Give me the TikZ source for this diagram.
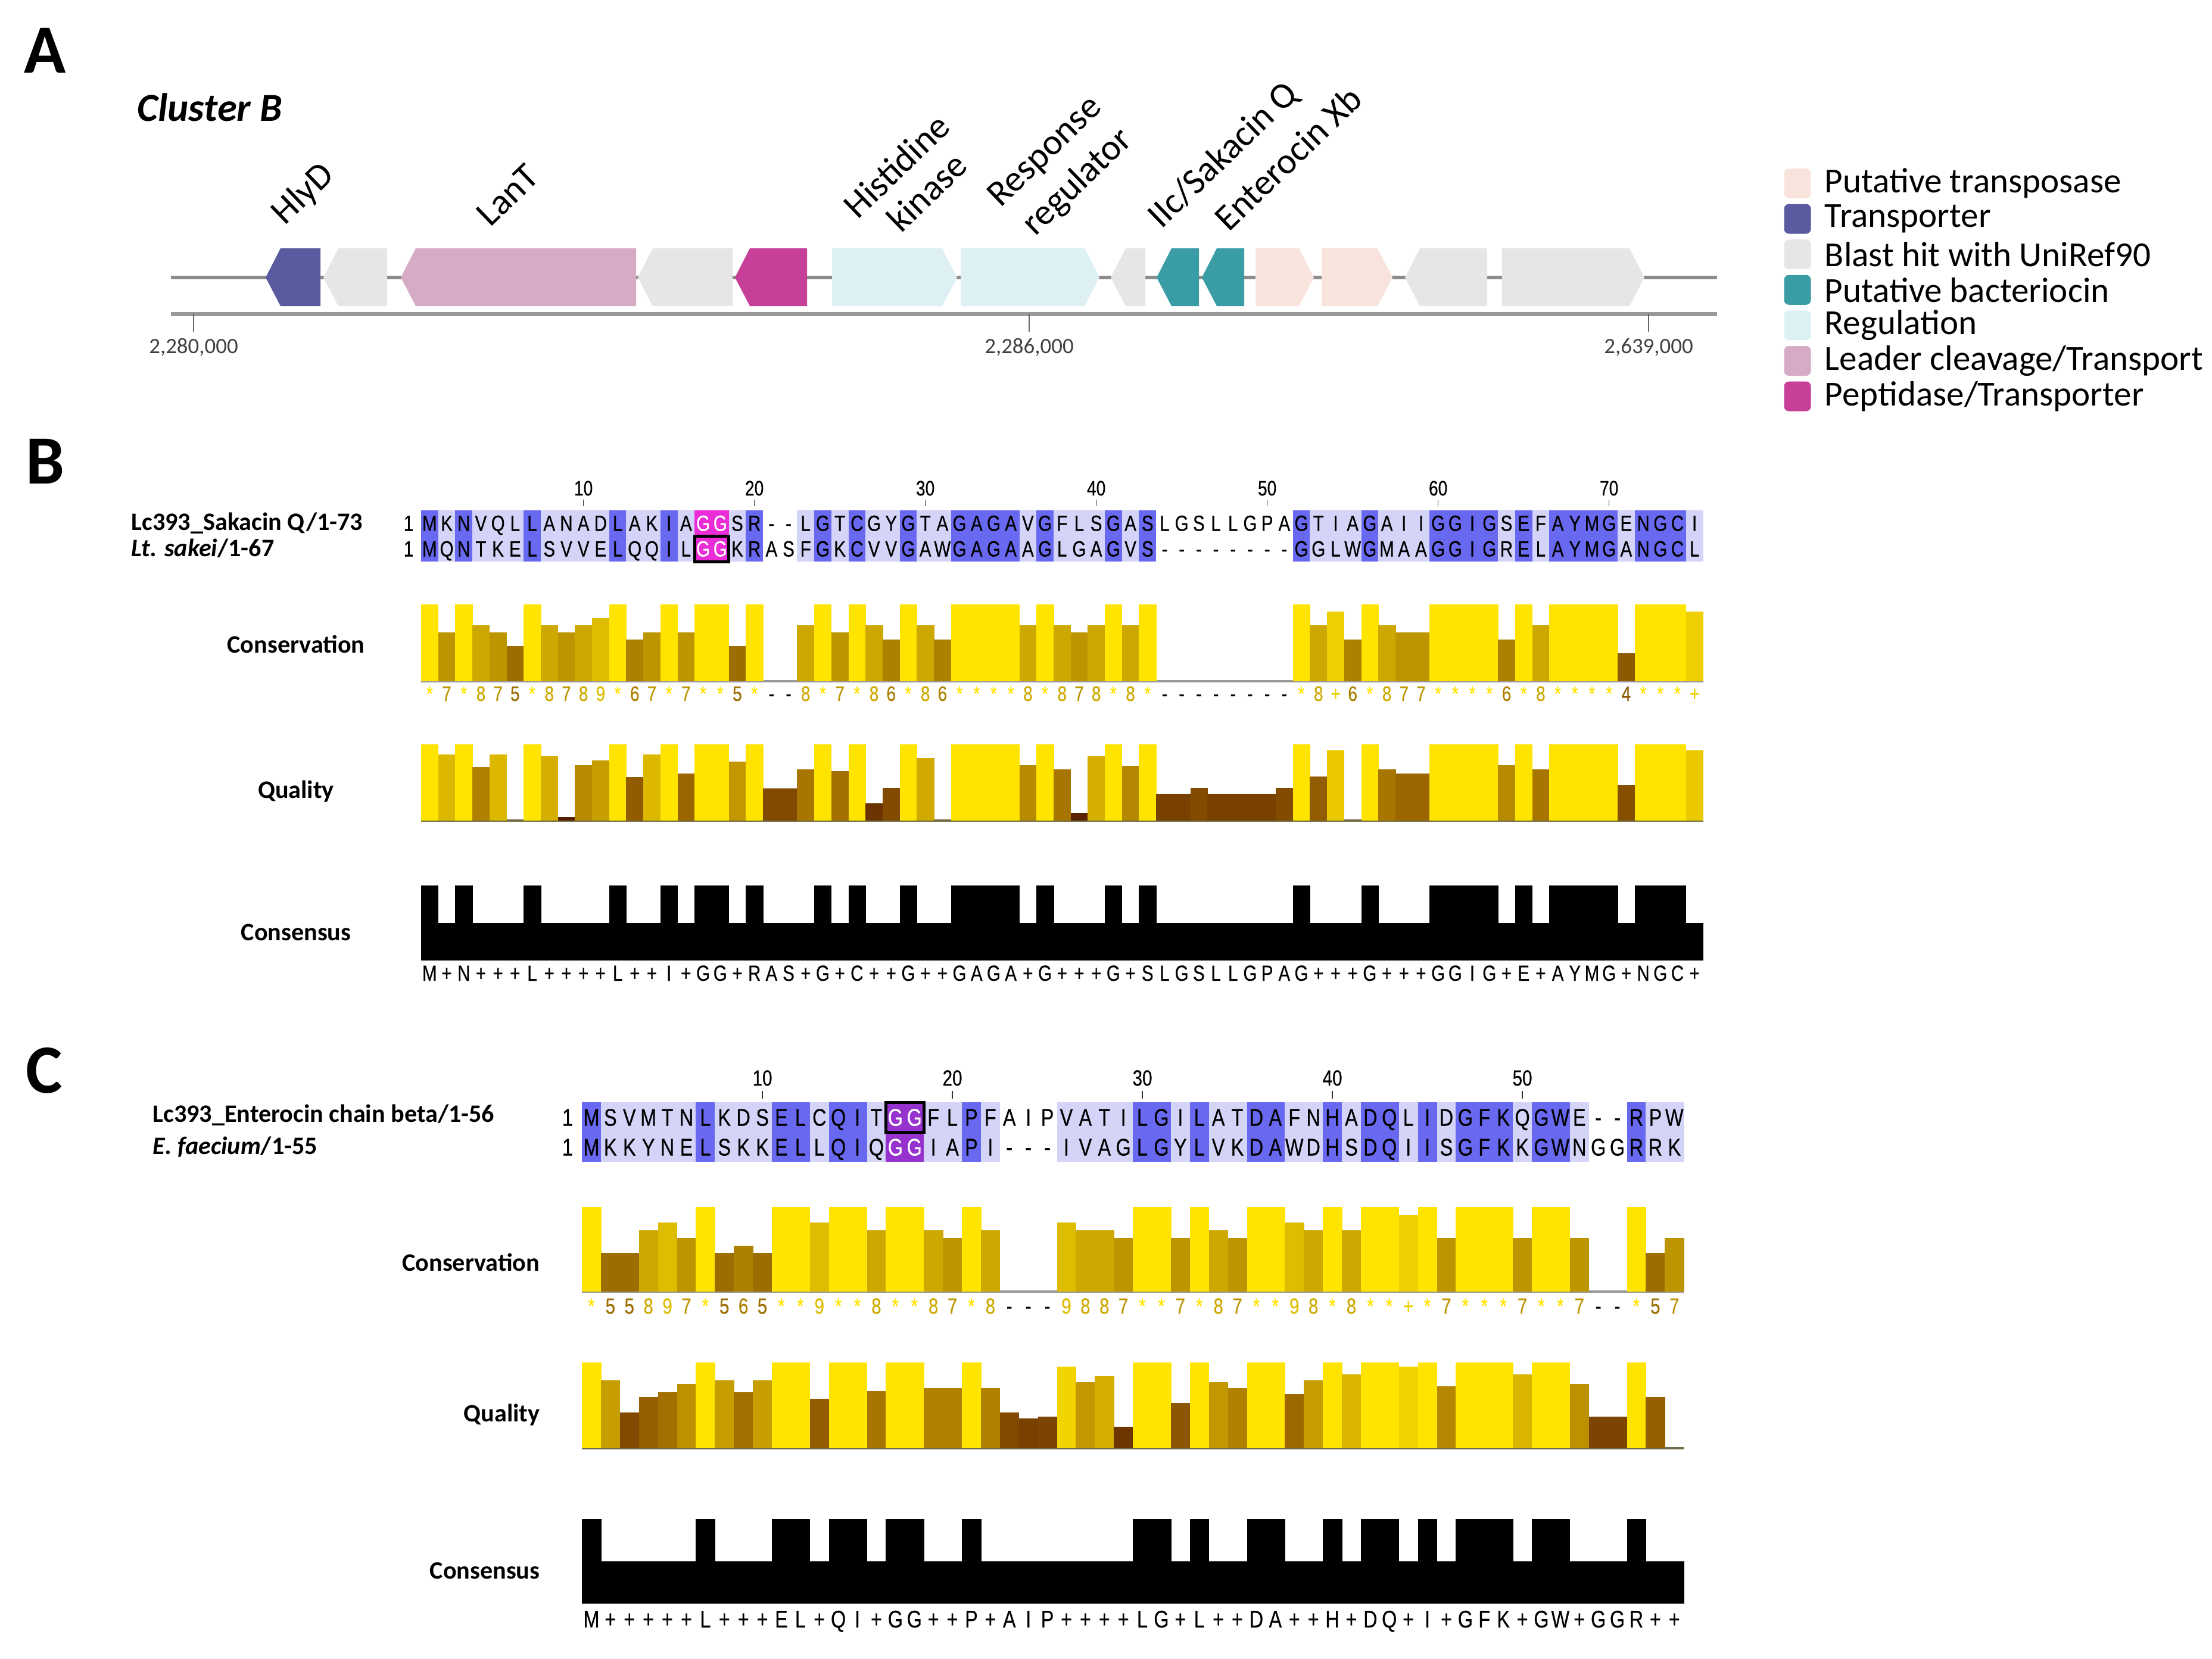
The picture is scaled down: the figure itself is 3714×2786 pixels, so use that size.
\documentclass[tikz,border=0pt]{standalone}
\usepackage{fontspec}
\setmainfont{Carlito}
\newfontfamily\seqfont[FakeStretch=0.8,FakeBold=0.4]{Liberation Sans}
\usetikzlibrary{positioning,calc}

\definecolor{transposase}{RGB}{249,227,221}
\definecolor{transporter}{RGB}{90,90,160}
\definecolor{blasthit}{RGB}{230,230,230}
\definecolor{bacteriocin}{RGB}{58,157,165}
\definecolor{regulation}{RGB}{221,240,244}
\definecolor{leader}{RGB}{214,171,198}
\definecolor{peptidase}{RGB}{198,63,152}
\definecolor{pidhi}{RGB}{104,104,240}
\definecolor{pidlo}{RGB}{212,212,248}
\definecolor{hlmag}{RGB}{235,45,215}
\definecolor{hlpur}{RGB}{150,50,205}

\tikzset{panel/.style = {font=\fontsize{33}{33}\selectfont\bfseries, inner sep=0pt, anchor=base west},
    cluster/.style = {font=\fontsize{19}{19}\selectfont\bfseries\itshape, inner sep=0pt, anchor=base west},
    genelbl/.style = {font=\fontsize{17.5}{17.5}\selectfont, inner sep=0pt, anchor=base west, rotate=44},
    poslbl/.style = {font=\fontsize{10.5}{10.5}\selectfont, text=black!75, inner sep=0pt},
    legbox/.style = {rounded corners=0.8mm, minimum width=4.5mm, minimum height=5mm, inner sep=0pt},
    legtxt/.style = {font=\fontsize{16.8}{16.8}\selectfont, inner sep=0pt, anchor=west},
    seqname/.style = {font=\fontsize{12}{12}\selectfont\bfseries, inner sep=0pt, anchor=west},
    annot/.style = {font=\fontsize{12}{12}\selectfont\bfseries, inner sep=0pt},
    seqc/.style = {font=\seqfont\seqfs, inner sep=0pt, anchor=base},
    cnum/.style = {font=\seqfont\numfs, inner sep=0pt, anchor=base},
    tickm/.style = {black!80, line width=0.15mm}
}

% gene arrows: from x1 to x2, tip on the left or on the right
\newcommand\GeneL[3]{\fill[#3] (#1,466) -- (#1+25,417) -- (#2,417) -- (#2,514) -- (#1+25,514) -- cycle;}
\newcommand\GeneR[3]{\fill[#3] (#1,417) -- (#2-25,417) -- (#2,466) -- (#2-25,514) -- (#1,514) -- cycle;}

\def\gp{-}
% two aligned rows plus consensus
\newcommand\DrawAln[1]{%
\foreach \resA/\resB [count=\i] in {#1} {
    \pgfmathsetmacro\xl{\alX+(\i-1)*\alW}
    \pgfmathsetmacro\xr{\alX+\i*\alW+0.6}
    \pgfmathsetmacro\xc{\alX+(\i-0.5)*\alW}
    \def\clr{pidlo}\def\hgt{0.5}\def\cns{+}\def\txc{black}
    \ifx\resA\resB \def\clr{pidhi}\def\hgt{1}\let\cns\resA\fi
    \ifx\resA\gp \def\clr{white}\let\cns\resB\fi
    \ifx\resB\gp \def\clr{white}\let\cns\resA\fi
    \ifnum\i=\hlA \let\clr\hlC\def\txc{white}\fi
    \ifnum\i=\hlB \let\clr\hlC\def\txc{white}\fi
    \fill[\clr] (\xl,\alY) rectangle (\xr,\alY+2*\alH);
    \node[seqc,text=\txc] (\pfx a\i) at (\xc,\alY+0.5*\alH+\capH) {\resA};
    \node[seqc,text=\txc] (\pfx b\i) at (\xc,\alY+1.5*\alH+\capH) {\resB};
    \fill[black] (\xl,\ccB) rectangle (\xr,\ccB-\hgt*\ccH);
    \node[seqc] (\pfx k\i) at (\xc,\ccT) {\cns};
}}
% conservation bars, 11 = *, 10 = +, -1 = gap
\newcommand\DrawCons[1]{%
\draw[black!40, line width=0.4mm] (\alX,\cvB) -- (\alX+\alN*\alW,\cvB);
\foreach \v [count=\i] in {#1} {
    \pgfmathsetmacro\xl{\alX+(\i-1)*\alW}
    \pgfmathsetmacro\xc{\alX+(\i-0.5)*\alW}
    \ifnum\v<0
        \node[cnum] (\pfx c\i) at (\xc,\cvN) {-};
    \else
        \pgfmathsetmacro\tq{max(0,min(1,(\v-4)/7))}
        \pgfmathtruncatemacro\colR{140+115*\tq}
        \pgfmathtruncatemacro\colG{90+138*\tq}
        \edef\tmp{\noexpand\definecolor{barc}{RGB}{\colR,\colG,0}}\tmp
        \fill[barc] (\xl,\cvB) rectangle (\xl+\alW+0.6,\cvB-\v/11*\cvH);
        \ifnum\v=11 \def\clab{*}\else\ifnum\v=10 \def\clab{+}\else\let\clab\v\fi\fi
        \node[cnum,text=barc] (\pfx c\i) at (\xc,\cvN) {\clab};
    \fi
}}
% quality bars
\newcommand\DrawQual[1]{%
\draw[black!40!yellow!60!black, line width=0.4mm] (\alX,\qlB) -- (\alX+\alN*\alW,\qlB);
\foreach \q [count=\i] in {#1} {
    \pgfmathsetmacro\xl{\alX+(\i-1)*\alW}
    \ifdim\q pt>0pt
        \pgfmathsetmacro\tq{max(0,min(1,(\q-0.6)/0.4))}
        \pgfmathsetmacro\sq{max(0,min(1,\q/0.6))}
        \pgfmathtruncatemacro\colR{\q<0.6 ? 80+70*\sq : 150+105*\tq}
        \pgfmathtruncatemacro\colG{\q<0.6 ? 25+70*\sq : 95+133*\tq}
        \edef\tmp{\noexpand\definecolor{barc}{RGB}{\colR,\colG,0}}\tmp
        \fill[barc] (\xl,\qlB) rectangle (\xl+\alW+0.6,\qlB-\q*\qlH);
    \fi
}}

\begin{document}
\begin{tikzpicture}[x=0.1mm,y=-0.1mm]
\useasboundingbox (0,0) rectangle (3714,2786);

%%% A: gene cluster
\node[panel] (pA) at (40,123) {A};
\node[cluster] (clB) at (230,204) {Cluster B};
\draw[black!45, line width=0.55mm] (287,466) -- (2883,466);
\GeneL{446}{538}{transporter}
\GeneL{543}{650}{blasthit}
\GeneL{673}{1068}{leader}
\GeneL{1071}{1230}{blasthit}
\GeneL{1234}{1355}{peptidase}
\GeneR{1397}{1607}{regulation}
\GeneR{1613}{1846}{regulation}
\GeneL{1865}{1923}{blasthit}
\GeneL{1942}{2013}{bacteriocin}
\GeneL{2018}{2089}{bacteriocin}
\GeneR{2108}{2206}{transposase}
\GeneR{2219}{2338}{transposase}
\GeneL{2359}{2497}{blasthit}
\GeneR{2522}{2761}{blasthit}
\node[genelbl] (gHly) at (478,380) {HlyD};
\node[genelbl] (gLan) at (823,383) {LanT};
\node[genelbl] (gHis1) at (1440,370) {Histidine};
\node[genelbl] (gHis2) at (1513,393) {kinase};
\node[genelbl] (gRes1) at (1680,350) {Response};
\node[genelbl] (gRes2) at (1738,398) {regulator};
\node[genelbl] (gSak) at (1950,386) {IIc/Sakacin Q};
\node[genelbl] (gEnt) at (2063,391) {Enterocin Xb};
\draw[black!40, line width=0.7mm] (287,527) -- (2883,527);
\foreach \x/\t [count=\i] in {325/{2,280,000},1728/{2,286,000},2768/{2,639,000}} {
    \draw[black!60, line width=0.2mm] (\x,527) -- (\x,557);
    \node[poslbl] (pos\i) at (\x,583) {\t};
}
\foreach \c/\t [count=\i] in {transposase/{Putative transposase},transporter/{Transporter},
        blasthit/{Blast hit with UniRef90},bacteriocin/{Putative bacteriocin},regulation/{Regulation},
        leader/{Leader cleavage/Transport},peptidase/{Peptidase/Transporter}} {
    \node[legbox,fill=\c] (lg\i) at (3018,{308+(\i-1)*59.6}) {};
    \node[legtxt,right=2.2mm of lg\i] (lt\i) {\t};
}

%%% B: sakacin Q
\node[panel] (pB) at (43,812) {B};
\def\pfx{b}\def\alX{707}\def\alW{28.7}\def\alN{75}\def\alY{857}\def\alH{43}\def\capH{13}
\def\cvB{1144}\def\cvH{129}\def\cvN{1177}\def\qlB{1378}\def\qlH{128}\def\ccB{1613}\def\ccH{126}\def\ccT{1647}
\def\hlA{17}\def\hlB{18}\def\hlC{hlmag}
\def\seqfs{\fontsize{10.5}{10.5}\selectfont}\def\numfs{\fontsize{10}{10}\selectfont}
\node[seqname] (nB1) at (220,879) {Lc393\_Sakacin Q/1-73};
\node[seqname] (nB2) at (220,921) {\textit{Lt. sakei}/1-67};
\node[annot] (lBc) at (497,1082) {Conservation};
\node[annot] (lBq) at (497,1329) {Quality};
\node[annot] (lBk) at (497,1566) {Consensus};
\foreach \tk in {10,20,...,70} {
    \node[cnum] (bt\tk) at ({\alX+(\tk-0.5)*\alW},832) {\tk};
    \draw[tickm] ({\alX+(\tk-0.5)*\alW},839) -- ({\alX+(\tk-0.5)*\alW},850);
}
\node[seqc] (bn1) at (686,\alY+0.5*\alH+\capH) {1};
\node[seqc] (bn2) at (686,\alY+1.5*\alH+\capH) {1};
\DrawAln{M/M,K/Q,N/N,V/T,Q/K,L/E,L/L,A/S,N/V,A/V,D/E,L/L,A/Q,K/Q,I/I,A/L,G/G,G/G,S/K,R/R,-/A,-/S,L/F,G/G,T/K,C/C,G/V,Y/V,G/G,T/A,A/W,G/G,A/A,G/G,A/A,V/A,G/G,F/L,L/G,S/A,G/G,A/V,S/S,L/-,G/-,S/-,L/-,L/-,G/-,P/-,A/-,G/G,T/G,I/L,A/W,G/G,A/M,I/A,I/A,G/G,G/G,I/I,G/G,S/R,E/E,F/L,A/A,Y/Y,M/M,G/G,E/A,N/N,G/G,C/C,I/L}
\draw[black, line width=0.5mm] ({\alX+16*\alW},\alY+\alH) rectangle ({\alX+18*\alW},\alY+2*\alH);
\DrawCons{11,7,11,8,7,5,11,8,7,8,9,11,6,7,11,7,11,11,5,11,-1,-1,8,11,7,11,8,6,11,8,6,11,11,11,11,8,11,8,7,8,11,8,11,-1,-1,-1,-1,-1,-1,-1,-1,11,8,10,6,11,8,7,7,11,11,11,11,6,11,8,11,11,11,11,4,11,11,11,10}
\DrawQual{1,.87,1,.70,.87,0,1,.84,.05,.73,.79,1,.57,.87,1,.62,1,1,.77,1,.42,.42,.67,1,.65,1,.23,.43,1,.82,0,1,1,1,1,.73,1,.67,.10,.84,1,.72,1,.35,.35,.43,.35,.35,.35,.35,.43,1,.58,.92,0,1,.67,.62,.62,1,1,1,1,.73,1,.67,1,1,1,1,.47,1,1,1,.92}

%%% C: enterocin
\node[panel] (pC) at (43,1835) {C};
\def\pfx{c}\def\alX{977}\def\alW{31.9}\def\alN{58}\def\alY{1851}\def\alH{50}\def\capH{14.5}
\def\cvB{2169}\def\cvH{142}\def\cvN{2206}\def\qlB{2432}\def\qlH{144}\def\ccB{2693}\def\ccH{142}\def\ccT{2733}
\def\hlA{17}\def\hlB{18}\def\hlC{hlpur}
\def\seqfs{\fontsize{11.5}{11.5}\selectfont}\def\numfs{\fontsize{10.5}{10.5}\selectfont}
\node[seqname] (nC1) at (256,1873) {Lc393\_Enterocin chain beta/1-56};
\node[seqname] (nC2) at (256,1926) {\textit{E. faecium}/1-55};
\node[annot,anchor=east] (lCc) at (907,2120) {Conservation};
\node[annot,anchor=east] (lCq) at (907,2376) {Quality};
\node[annot,anchor=east] (lCk) at (907,2638) {Consensus};
\foreach \tk in {10,20,...,50} {
    \node[cnum] (ct\tk) at ({\alX+(\tk-0.5)*\alW},1823) {\tk};
    \draw[tickm] ({\alX+(\tk-0.5)*\alW},1832) -- ({\alX+(\tk-0.5)*\alW},1845);
}
\node[seqc] (cn1) at (953,\alY+0.5*\alH+\capH) {1};
\node[seqc] (cn2) at (953,\alY+1.5*\alH+\capH) {1};
\DrawAln{M/M,S/K,V/K,M/Y,T/N,N/E,L/L,K/S,D/K,S/K,E/E,L/L,C/L,Q/Q,I/I,T/Q,G/G,G/G,F/I,L/A,P/P,F/I,A/-,I/-,P/-,V/I,A/V,T/A,I/G,L/L,G/G,I/Y,L/L,A/V,T/K,D/D,A/A,F/W,N/D,H/H,A/S,D/D,Q/Q,L/I,I/I,D/S,G/G,F/F,K/K,Q/K,G/G,W/W,E/N,-/G,-/G,R/R,P/R,W/K}
\draw[black, line width=0.5mm] ({\alX+16*\alW},\alY) rectangle ({\alX+18*\alW},\alY+\alH);
\DrawCons{11,5,5,8,9,7,11,5,6,5,11,11,9,11,11,8,11,11,8,7,11,8,-1,-1,-1,9,8,8,7,11,11,7,11,8,7,11,11,9,8,11,8,11,11,10,11,7,11,11,11,7,11,11,7,-1,-1,11,5,7}
\DrawQual{1,.79,.42,.60,.65,.75,1,.79,.65,.79,1,1,.58,1,1,.67,1,1,.70,.70,1,.70,.42,.35,.37,.95,.77,.84,.25,1,1,.53,1,.77,.70,1,1,.63,.79,1,.86,1,1,.95,1,.72,1,1,1,.86,1,1,.75,.37,.37,1,.60,0}
\end{tikzpicture}
\end{document}
